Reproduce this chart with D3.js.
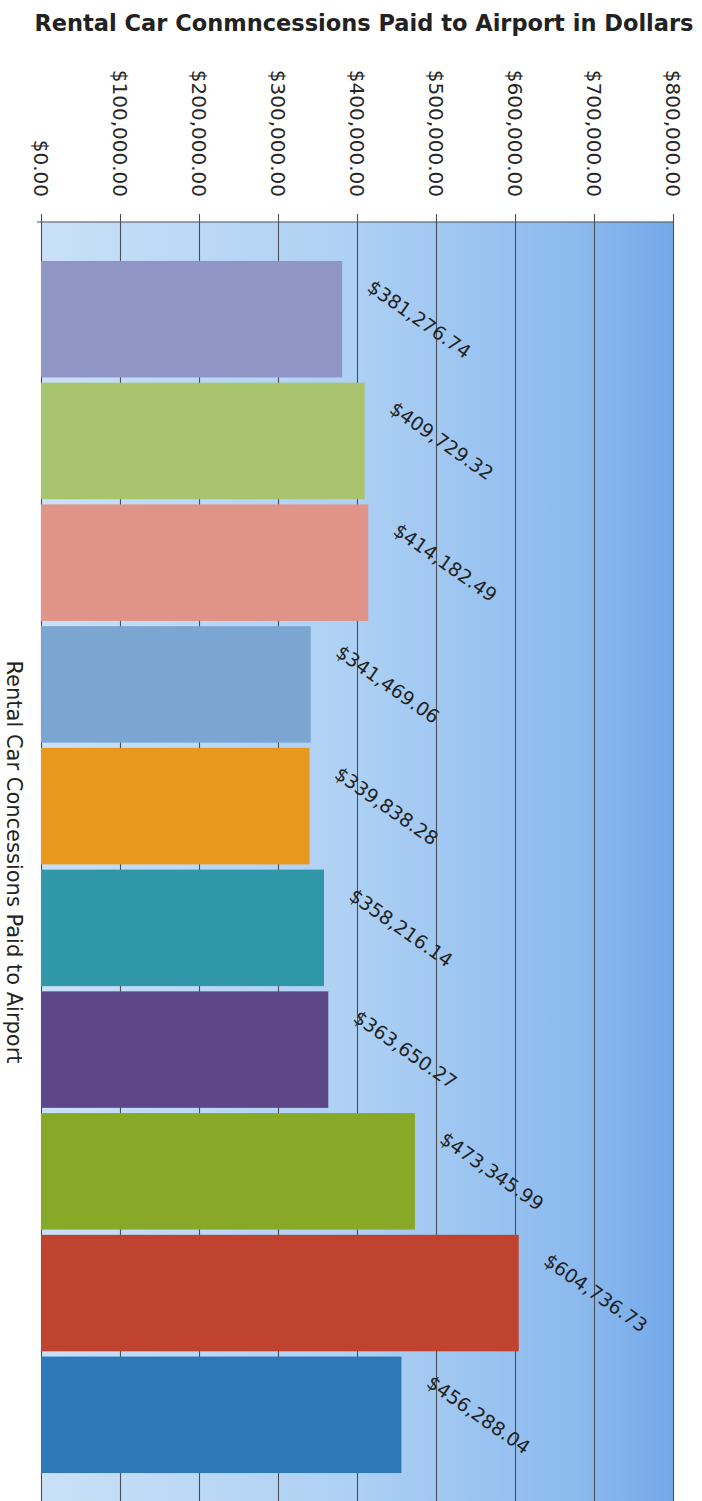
<!DOCTYPE html>
<html>
<head>
<meta charset="utf-8">
<script src="https://cdn.jsdelivr.net/npm/d3@7"></script>
<style>
  html, body { margin: 0; padding: 0; background: #ffffff; }
  svg { display: block; }
</style>
</head>
<body>
<div id="chart"></div>
<script>
// ---- data ----
const categories = ["Cat 1","Cat 2","Cat 3","Cat 4","Cat 5","Cat 6","Cat 7","Cat 8","Cat 9","Cat 10"];
const values = [381276.74, 409729.32, 414182.49, 341469.06, 339838.28, 358216.14, 363650.27, 473345.99, 604736.73, 456288.04];
const barColors = ["#8f95c5","#a9c46f","#e09488","#7ca6d2","#e8981c","#3097a8","#5d4789","#88a828","#c0432f","#2f78b7"];
const tickValues = [0,100000,200000,300000,400000,500000,600000,700000,800000];
const title = "Rental Car Conmncessions Paid to Airport in Dollars";
const axisTitle = "Rental Car Concessions Paid to Airport";

// ---- layout ----
const W = 702, H = 1501;
const plot = { left: 41, right: 673, top: 222, bottom: 1512 };
const font = "'DejaVu Sans', sans-serif";
const fmt = d3.format("$,.2f");

const svg = d3.select("#chart").append("svg").attr("width", W).attr("height", H);

const x = d3.scaleLinear().domain([0, 800000]).range([plot.left, plot.right]);
const y = d3.scaleBand().domain(categories).range([plot.top, plot.bottom])
  .paddingInner(0.043).paddingOuter(0.32);

// background gradient
const defs = svg.append("defs");
const grad = defs.append("linearGradient").attr("id", "bg").attr("x1", "0%").attr("x2", "100%").attr("y1", "0%").attr("y2", "0%");
grad.append("stop").attr("offset", "0%").attr("stop-color", "#c9e0f7");
grad.append("stop").attr("offset", "50%").attr("stop-color", "#add0f4");
grad.append("stop").attr("offset", "85%").attr("stop-color", "#8cbaee");
grad.append("stop").attr("offset", "100%").attr("stop-color", "#74a9e9");

svg.append("rect")
  .attr("x", plot.left).attr("y", plot.top)
  .attr("width", plot.right - plot.left).attr("height", plot.bottom - plot.top)
  .attr("fill", "url(#bg)");

// gridlines via axis
const gridAxis = d3.axisTop(x).tickValues(tickValues)
  .tickSize(-(plot.bottom - plot.top)).tickFormat("");
const g = svg.append("g").attr("transform", `translate(0,${plot.top})`).call(gridAxis);
g.select(".domain").remove();
g.selectAll(".tick line").attr("stroke", "#4a4f55").attr("stroke-width", 1.1);

// tick marks above the top line
const tickAxis = d3.axisTop(x).tickValues(tickValues).tickSize(8).tickSizeOuter(0).tickFormat("");
const t = svg.append("g").attr("transform", `translate(0,${plot.top})`).call(tickAxis);
t.select(".domain").attr("stroke", "#4a4f55").attr("stroke-width", 1.1)
  .attr("d", `M${plot.left - 4},0H${plot.right}`);
t.selectAll(".tick line").attr("stroke", "#4a4f55").attr("stroke-width", 1.1);

// rotated tick labels
svg.append("g").selectAll("text").data(tickValues).join("text")
  .attr("transform", d => `translate(${x(d)},197) rotate(90)`)
  .attr("text-anchor", "end")
  .attr("dy", "0.36em")
  .attr("font-family", font)
  .attr("font-size", 20)
  .attr("fill", "#262626")
  .text(d => fmt(d));

// bars
svg.append("g").selectAll("rect").data(values).join("rect")
  .attr("x", x(0))
  .attr("y", (d, i) => y(categories[i]))
  .attr("width", d => x(d) - x(0))
  .attr("height", y.bandwidth())
  .attr("fill", (d, i) => barColors[i]);

// value labels
svg.append("g").selectAll("text").data(values).join("text")
  .attr("transform", (d, i) => `translate(${x(d) + 77},${y(categories[i]) + y.bandwidth() / 2}) rotate(35)`)
  .attr("text-anchor", "middle")
  .attr("dy", "0.35em")
  .attr("font-family", font)
  .attr("font-size", 19)
  .attr("fill", "#222")
  .text(d => fmt(d));

// title
svg.append("text")
  .attr("x", 364).attr("y", 31)
  .attr("text-anchor", "middle")
  .attr("font-family", font)
  .attr("font-weight", "bold")
  .attr("font-size", 22.5)
  .attr("fill", "#222")
  .text(title);

// axis title
svg.append("text")
  .attr("transform", `translate(7,862) rotate(90)`)
  .attr("text-anchor", "middle")
  .attr("font-family", font)
  .attr("font-size", 21)
  .attr("fill", "#222")
  .text(axisTitle);
</script>
</body>
</html>
